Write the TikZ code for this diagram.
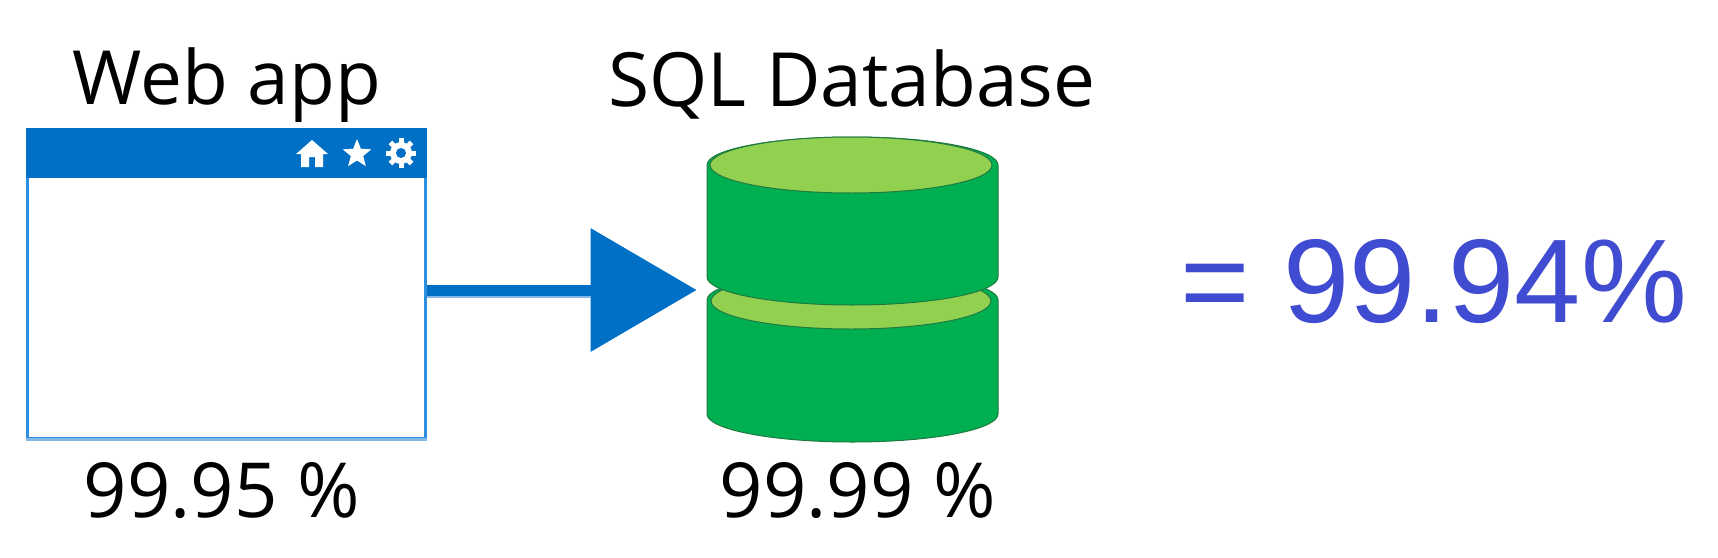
\documentclass[tikz,border=0pt]{standalone}
\usepackage{fontspec}
\setmainfont{Open Sans}
\newfontfamily\arialfont{Liberation Sans}
\usetikzlibrary{arrows.meta}
\definecolor{azureblue}{HTML}{0070C6}
\definecolor{edgeblue}{HTML}{2E8FE0}
\definecolor{paleblue}{HTML}{85B8E6}
\definecolor{dbgreen}{HTML}{00B050}
\definecolor{dblight}{HTML}{92D050}
\definecolor{dbedge}{HTML}{1F7A3F}
\definecolor{resultblue}{HTML}{3F4BD0}
\tikzstyle{label}=[anchor=base,inner sep=0pt,font=\fontsize{37.4}{37.4}\selectfont]
\tikzstyle{value}=[anchor=base,inner sep=0pt,font=\fontsize{38}{38}\selectfont]
\tikzstyle{window}=[draw=edgeblue,line width=1.5pt,fill=white,minimum width=199pt,minimum height=154.5pt,inner sep=0pt]
\tikzstyle{titlebar}=[fill=azureblue,minimum width=200.5pt,minimum height=25pt,inner sep=0pt]
\tikzstyle{drum}=[fill=dbgreen,draw=dbedge,line width=0.5pt]
\tikzstyle{lid}=[fill=dblight,draw=dbedge,line width=0.5pt]
\tikzstyle{flow}=[-{Triangle[length=53pt,width=60.5pt]},azureblue,line width=5.5pt]
\begin{document}
\begin{tikzpicture}[x=0.5pt,y=-0.5pt]
      \useasboundingbox (0,0) rectangle (1718,557);
      \node[label] (weblabel) at (227,104) {Web app};
      \node[label] (dblabel) at (852,106) {SQL Database};
      \node[value] (webvalue) at (222,517) {99.95 \%};
      \node[value] (dbvalue) at (858,517) {99.99 \%};
      \node[anchor=base,inner sep=0pt,text=resultblue,font=\arialfont\fontsize{59.5}{59.5}\selectfont] (result) at (1434,322) {= 99.94\%};
      % browser window
      \node[window] (window) at (226.5,283.5) {};
      \draw[paleblue,line width=1.5pt] (window.south west) -- (window.south east);
      \node[titlebar,anchor=north] (bar) at (226.5,128) {};
      \fill[white] (312,140) -- (328,154) -- (323,154) -- (323,167) -- (315,167) -- (315,157) -- (309,157) -- (309,167) -- (301,167) -- (301,154) -- (296,154) -- cycle;
      \fill[white,shift={(357,154)}] (-90:15) -- (-54:6.5) -- (-18:15) -- (18:6.5) -- (54:15) -- (90:6.5) -- (126:15) -- (162:6.5) -- (198:15) -- (234:6.5) -- cycle;
      \foreach \a in {0,45,...,315}
        \draw[white,line width=2.5pt] (401,153) ++(\a:8) -- ++(\a:7);
      \fill[white] (401,153) circle[radius=11];
      \fill[azureblue] (401,153) circle[radius=5];
      % database
      \draw[drum] (707,300) arc[start angle=180,end angle=360,x radius=145.5,y radius=28] -- (998,414) arc[start angle=0,end angle=180,x radius=145.5,y radius=28] -- cycle;
      \draw[lid] (851,301) ellipse[x radius=140,y radius=28];
      \draw[drum] (707,165) arc[start angle=180,end angle=360,x radius=145.5,y radius=28] -- (998,277) arc[start angle=0,end angle=180,x radius=145.5,y radius=28] -- cycle;
      \draw[lid] (851,165) ellipse[x radius=141,y radius=28];
      \node[minimum width=145.5pt,minimum height=150pt,inner sep=0pt] (db) at (852.5,290) {};
      \draw[flow,shorten >=5pt] (db.west -| window.east) -- (db.west);
      \draw[paleblue,line width=1pt] ([yshift=-3.25pt]db.west -| window.east) -- ++(164,0);
  	\end{tikzpicture}
\end{document}
